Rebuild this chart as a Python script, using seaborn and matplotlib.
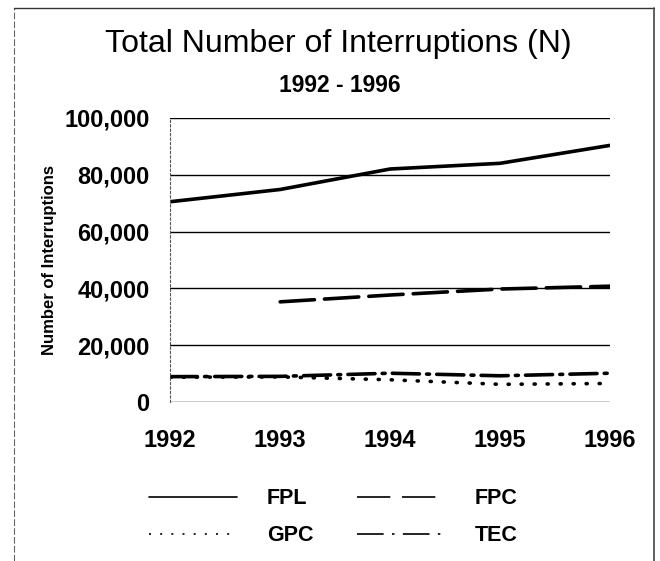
import matplotlib.pyplot as plt
import pandas as pd
import seaborn as sns
from matplotlib.lines import Line2D
from matplotlib.ticker import FuncFormatter

years = [1992, 1993, 1994, 1995, 1996]
fpl = [70500, 74800, 82000, 84000, 90300]
fpc = [None, 35300, 37700, 39800, 40800]
gpc = [8800, 8900, 7900, 6300, 6600]
tec = [9000, 9100, 10200, 9300, 10200]
companies = ["FPL", "FPC", "GPC", "TEC"]
y_ticks = [0, 20000, 40000, 60000, 80000, 100000]

rows = []
for name, vals in zip(companies, [fpl, fpc, gpc, tec]):
    for yr, v in zip(years, vals):
        rows.append({"Year": yr, "Interruptions": v, "Company": name})
df = pd.DataFrame(rows).dropna()

sns.set_theme(style="white")
plt.rcParams["font.family"] = ["Liberation Sans", "DejaVu Sans"]
plt.rcParams["text.color"] = "black"
plt.rcParams["axes.labelcolor"] = "black"

# dash patterns for the data lines (in linewidth units)
styles = {
    "FPL": "",
    "FPC": (9.5, 2.8),
    "GPC": (0.3, 3.3),
    "TEC": (7.5, 2, 0.8, 2),
}
# thinner legend samples
legend_styles = {
    "FPL": "-",
    "FPC": (0, (20, 7)),
    "GPC": (0, (1.2, 5.5)),
    "TEC": (0, (16, 5, 1.5, 5)),
}

fig = plt.figure(figsize=(6.6, 5.61), dpi=100)
ax = fig.add_axes((0.258, 0.283, 0.666, 0.507))

ax.set_yticks(y_ticks)
ax.yaxis.grid(True, color="black", linewidth=1.0)
ax.set_axisbelow(True)

sns.lineplot(
    data=df, x="Year", y="Interruptions", style="Company",
    style_order=companies, dashes=styles, color="black",
    linewidth=2.6, legend=False, ax=ax,
)
for ln in ax.lines:
    ln.set_dash_capstyle("round")

ax.set_xlim(1992, 1996)
ax.set_ylim(0, 100000)
ax.set_xticks(years)
ax.yaxis.set_major_formatter(FuncFormatter(lambda v, p: f"{int(v):,}"))
for s in ["top", "right", "bottom"]:
    ax.spines[s].set_visible(False)
ax.spines["left"].set_linestyle((0, (2, 2)))
ax.spines["left"].set_color("#555555")
ax.spines["left"].set_linewidth(0.8)
ax.tick_params(axis="both", which="major", direction="out",
               width=0.8, colors="black", labelsize=17)
ax.tick_params(axis="y", length=9, pad=6)
ax.tick_params(axis="x", length=7, pad=12)
for lbl in ax.get_xticklabels() + ax.get_yticklabels():
    lbl.set_fontweight("bold")
ax.set_xlabel("")
ax.set_ylabel("Number of Interruptions", fontsize=12, fontweight="bold",
              labelpad=5)

fig.text(0.512, 1 - 52 / 561, "Total Number of Interruptions (N)",
         ha="center", va="baseline", fontsize=23)
fig.text(0.515, 1 - 92 / 561, "1992 - 1996", ha="center", va="baseline",
         fontsize=16.5, fontweight="bold")

order = ["FPL", "GPC", "FPC", "TEC"]
handles = [Line2D([0], [0], color="black", linewidth=1.2,
                  linestyle=legend_styles[n]) for n in order]
fig.legend(handles, order, ncol=2, loc="center",
           bbox_to_anchor=(0.505, 0.078), frameon=False, handlelength=4.1,
           handletextpad=1.4, columnspacing=2.0,
           prop={"weight": "bold", "size": 15.5}, labelspacing=0.75)

# page border
fig.add_artist(Line2D([14 / 660, 14 / 660], [0, 1 - 8 / 561],
                      transform=fig.transFigure, color="#666666",
                      linewidth=0.8, linestyle=(0, (6, 2))))
fig.add_artist(Line2D([14 / 660, 654 / 660], [1 - 8 / 561, 1 - 8 / 561],
                      transform=fig.transFigure, color="#333333",
                      linewidth=1.0))
fig.add_artist(Line2D([654 / 660, 654 / 660], [0, 1 - 8 / 561],
                      transform=fig.transFigure, color="#444444",
                      linewidth=1.2))

fig.savefig("out.png", dpi=100)
